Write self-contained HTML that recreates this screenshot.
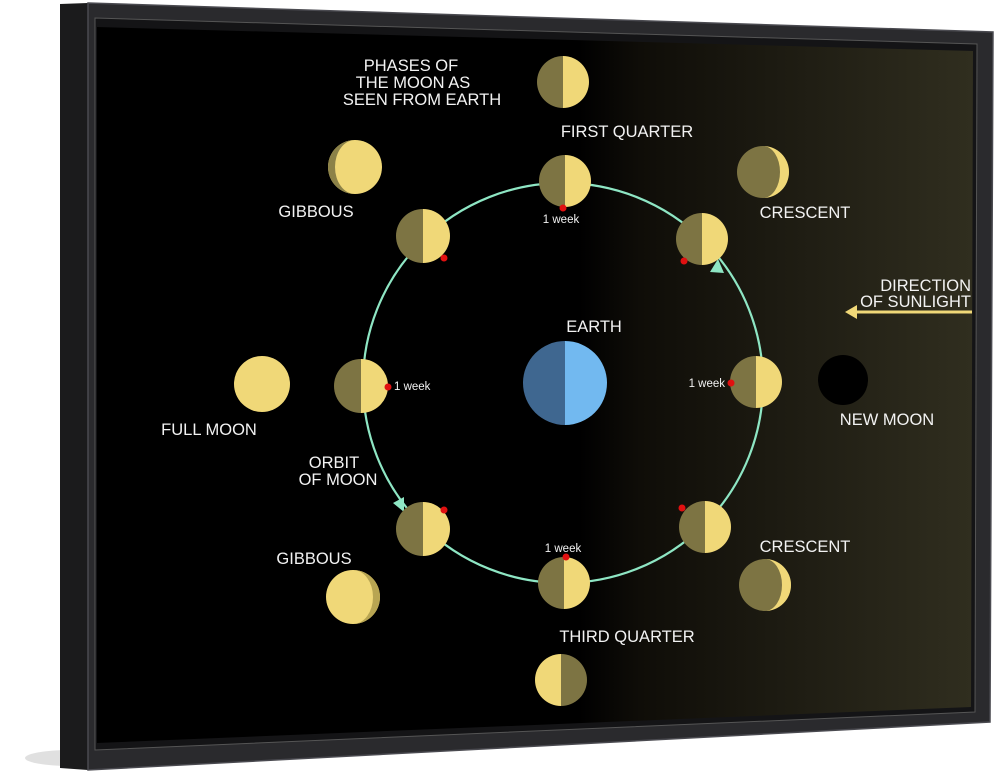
<!DOCTYPE html>
<html><head><meta charset="utf-8"><style>
html,body{margin:0;padding:0;background:#fff;}
svg{display:block;}
text{font-family:"Liberation Sans",Arial,sans-serif;fill:#f2f2f2;}
</style></head><body>
<svg width="1000" height="775" viewBox="0 0 1000 775" xmlns="http://www.w3.org/2000/svg">
<defs>
<linearGradient id="bg" x1="0" y1="0" x2="1" y2="0" gradientUnits="objectBoundingBox">
<stop offset="0" stop-color="#000"/>
<stop offset="0.55" stop-color="#000"/>
<stop offset="0.62" stop-color="#0f0d08"/>
<stop offset="1" stop-color="#302e1f"/>
</linearGradient>
</defs>
<ellipse cx="70" cy="758" rx="45" ry="8" fill="#ccc" opacity="0.6"/>
<polygon points="60,4 88,3 88,770 60,768" fill="#1b1b1c"/>
<polygon points="88,3 993,32 990,722 88,770" fill="#2a2a2d"/>
<polygon points="88,3 993,32 990,722 88,770" fill="none" stroke="#4a4a50" stroke-width="1.5"/>
<polygon points="95,18 977,44 975,712 95,750" fill="#141416" stroke="#555" stroke-width="1"/>
<polygon points="97,27 973,51 971,707 97,743" fill="url(#bg)"/>

<circle cx="563" cy="383" r="200" fill="none" stroke="#8ee6c4" stroke-width="2.2"/>
<polygon points="718,259 710,272 724,273" fill="#8ee6c4"/>
<polygon points="404,512 393,503 404,497" fill="#8ee6c4"/>

<g>
<g transform="translate(565,181)"><path d="M0,-26A26,26 0 0 0 0,26Z" fill="#7d7443"/><path d="M0,-26A26,26 0 0 1 0,26Z" fill="#f0d878"/></g>
<g transform="translate(702,239)"><path d="M0,-26A26,26 0 0 0 0,26Z" fill="#7d7443"/><path d="M0,-26A26,26 0 0 1 0,26Z" fill="#f0d878"/></g>
<g transform="translate(756,382)"><path d="M0,-26A26,26 0 0 0 0,26Z" fill="#7d7443"/><path d="M0,-26A26,26 0 0 1 0,26Z" fill="#f0d878"/></g>
<g transform="translate(705,527)"><path d="M0,-26A26,26 0 0 0 0,26Z" fill="#7d7443"/><path d="M0,-26A26,26 0 0 1 0,26Z" fill="#f0d878"/></g>
<g transform="translate(564,583)"><path d="M0,-26A26,26 0 0 0 0,26Z" fill="#7d7443"/><path d="M0,-26A26,26 0 0 1 0,26Z" fill="#f0d878"/></g>
<g transform="translate(423,529)"><path d="M0,-27A27,27 0 0 0 0,27Z" fill="#7d7443"/><path d="M0,-27A27,27 0 0 1 0,27Z" fill="#f0d878"/></g>
<g transform="translate(361,386)"><path d="M0,-27A27,27 0 0 0 0,27Z" fill="#7d7443"/><path d="M0,-27A27,27 0 0 1 0,27Z" fill="#f0d878"/></g>
<g transform="translate(423,236)"><path d="M0,-27A27,27 0 0 0 0,27Z" fill="#7d7443"/><path d="M0,-27A27,27 0 0 1 0,27Z" fill="#f0d878"/></g>
<g transform="translate(563,82)"><path d="M0,-26A26,26 0 0 0 0,26Z" fill="#7d7443"/><path d="M0,-26A26,26 0 0 1 0,26Z" fill="#f0d878"/></g>
<g transform="translate(561,680)"><path d="M0,-26A26,26 0 0 0 0,26Z" fill="#f0d878"/><path d="M0,-26A26,26 0 0 1 0,26Z" fill="#7d7443"/></g>
</g>
<g fill="#e01010">
<circle cx="563" cy="208" r="3.5"/><circle cx="444" cy="258" r="3.5"/><circle cx="684" cy="261" r="3.5"/>
<circle cx="731" cy="383" r="3.5"/><circle cx="682" cy="508" r="3.5"/><circle cx="566" cy="557" r="3.5"/>
<circle cx="444" cy="510" r="3.5"/><circle cx="388" cy="387" r="3.5"/>
</g>
<!-- gibbous top-left: light with dark sliver left -->
<circle cx="355" cy="167" r="27" fill="#f0d878"/>
<path d="M355,140A27,27 0 0 0 355,194A20,27 0 0 1 355,140Z" fill="#8c8248"/>
<!-- gibbous bottom: light with dark sliver right -->
<circle cx="353" cy="597" r="27" fill="#f0d878"/>
<path d="M353,570A27,27 0 0 1 353,624A20,27 0 0 0 353,570Z" fill="#b8a552"/>
<!-- crescents -->
<circle cx="763" cy="172" r="26" fill="#7d7443"/>
<path d="M763,146A26,26 0 0 1 763,198A17,26 0 0 0 763,146Z" fill="#f0d878"/>
<circle cx="765" cy="585" r="26" fill="#7d7443"/>
<path d="M765,559A26,26 0 0 1 765,611A17,26 0 0 0 765,559Z" fill="#f0d878"/>
<circle cx="262" cy="384" r="28" fill="#f0d878"/>
<circle cx="843" cy="380" r="25" fill="#000"/>
<path d="M565,341A42,42 0 0 0 565,425Z" fill="#3f6790"/>
<path d="M565,341A42,42 0 0 1 565,425Z" fill="#72b9f0"/>
<line x1="972" y1="312" x2="855" y2="312" stroke="#f0d878" stroke-width="3"/>
<polygon points="845,312 857,305 857,319" fill="#f0d878"/>

<g font-size="16.5">
<text x="411" y="71" text-anchor="middle">PHASES OF</text>
<text x="413" y="88" text-anchor="middle">THE MOON AS</text>
<text x="422" y="105" text-anchor="middle">SEEN FROM EARTH</text>
<text x="627" y="137" text-anchor="middle">FIRST QUARTER</text>
<text x="316" y="217" text-anchor="middle">GIBBOUS</text>
<text x="805" y="218" text-anchor="middle">CRESCENT</text>
<text x="971" y="291" text-anchor="end">DIRECTION</text>
<text x="971" y="307" text-anchor="end">OF SUNLIGHT</text>
<text x="594" y="332" text-anchor="middle">EARTH</text>
<text x="209" y="435" text-anchor="middle">FULL MOON</text>
<text x="887" y="425" text-anchor="middle">NEW MOON</text>
<text x="334" y="468" text-anchor="middle">ORBIT</text>
<text x="338" y="485" text-anchor="middle">OF MOON</text>
<text x="314" y="564" text-anchor="middle">GIBBOUS</text>
<text x="805" y="552" text-anchor="middle">CRESCENT</text>
<text x="627" y="642" text-anchor="middle">THIRD QUARTER</text>
</g>
<g font-size="11.5">
<text x="561" y="223" text-anchor="middle">1 week</text>
<text x="394" y="390">1 week</text>
<text x="725" y="387" text-anchor="end">1 week</text>
<text x="563" y="552" text-anchor="middle">1 week</text>
</g>
</svg>
</body></html>
